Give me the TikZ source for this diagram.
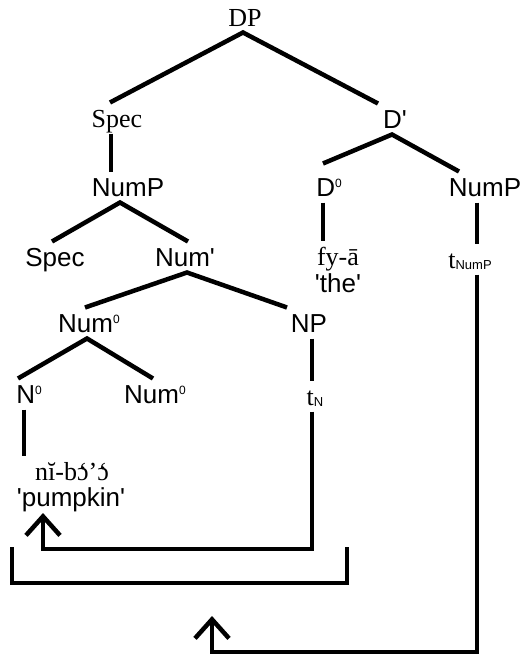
\documentclass[tikz,border=0pt]{standalone}
\usepackage{fontspec}
\setmainfont{Liberation Serif}
\setsansfont{Liberation Sans}
\usetikzlibrary{arrows.meta,calc}
\newcommand\supz[1]{\raisebox{9.5pt}{\sffamily\fontsize{12}{12}\selectfont #1}}
\newcommand\subsc[1]{\raisebox{-1pt}{\sffamily\fontsize{13}{13}\selectfont #1}}
\newcommand\sq{\textquotesingle}
\newcommand\ogr{\accent"60 ɔ}
\begin{document}
\begin{tikzpicture}[x=1pt,y=-1pt,
  lab/.style={inner sep=0pt, outer ysep=6pt, outer xsep=0pt, text height=19pt, text depth=0pt, font=\fontsize{26}{30}\selectfont},
  sf/.style={lab, font=\sffamily\fontsize{26}{30}\selectfont},
  br/.style={line width=4.5pt},
  mv/.style={line width=4.5pt, -{Straight Barb[length=19pt,width=34pt]}}]
\useasboundingbox (0,0) rectangle (528,656);
% nodes
\node[lab] (DP) at (245,17) {DP};
\node[lab] (SpecT) at (117,118) {Spec};
\node[sf] (D1) at (395,119) {D\sq};
\node[sf] (NumPL) at (128,187) {NumP};
\node[sf] (D0) at (329,187) {D\supz{0}};
\node[sf] (NumPR) at (485,187) {NumP};
\node[sf] (SpecS) at (55,257) {Spec};
\node[sf] (Num1) at (185,257) {Num\sq};
\node[lab] (fya) at (338,256) {fy-ā};
\node[sf] (the) at (338,283) {\sq the\sq};
\node[lab] (tNumP) at (470,259) {t\subsc{NumP}};
\node[sf] (Num0a) at (89,323) {Num\supz{0}};
\node[sf] (NP) at (309,323) {NP};
\node[sf] (N0) at (29,394) {N\supz{0}};
\node[sf] (Num0b) at (155,394) {Num\supz{0}};
\node[lab] (tN) at (315,396) {t\subsc{N}};
\node[lab] (nibo) at (72,471) {nĭ-b\ogr’\ogr};
\node[sf] (pumpkin) at (71,497) {\sq pumpkin\sq};
\coordinate (pk) at (43,513);
\coordinate (mv2) at (212,616);
% branches
\draw[br] ([xshift=-7pt]SpecT.north) -- ([xshift=-2pt]DP.south) -- ([xshift=-17pt]D1.north);
\draw[br] ([xshift=-6pt]SpecT.south) -- ([xshift=-17pt]NumPL.north);
\draw[br] ([xshift=-6pt,yshift=8pt]D0.north) -- ([xshift=-3pt]D1.south) -- ([xshift=-26pt]NumPR.north);
\draw[br] ([xshift=-6pt]D0.south) -- ([xshift=-15pt]fya.north);
\draw[br] ([xshift=-8pt]NumPR.south) -- ([xshift=7pt]tNumP.north);
\draw[br] ([xshift=-3pt]SpecS.north) -- ([xshift=-8pt]NumPL.south) -- ([xshift=3pt]Num1.north);
\draw[br] ([xshift=-4pt]Num0a.north) -- ([xshift=2pt]Num1.south) -- ([xshift=-22pt]NP.north);
\draw[br] ([xshift=-11pt]N0.north) -- ([xshift=-2pt]Num0a.south) -- ([xshift=-2pt]Num0b.north);
\draw[br] ([xshift=3pt]NP.south) -- ([xshift=-3pt]tN.north);
\draw[br] ([xshift=-5pt]N0.south) -- ([xshift=-48pt]nibo.north);
% movement arrows
\draw[mv] ([xshift=-3pt]tN.south) |- ($(pk)+(0,36)$) -- (pk);
\draw[mv] ([xshift=7pt]tNumP.south) |- ($(mv2)+(0,36)$) -- (mv2);
% bracket
\draw[br] (12,547) -- (12,583) -- (347,583) -- (347,547);
\end{tikzpicture}
\end{document}
